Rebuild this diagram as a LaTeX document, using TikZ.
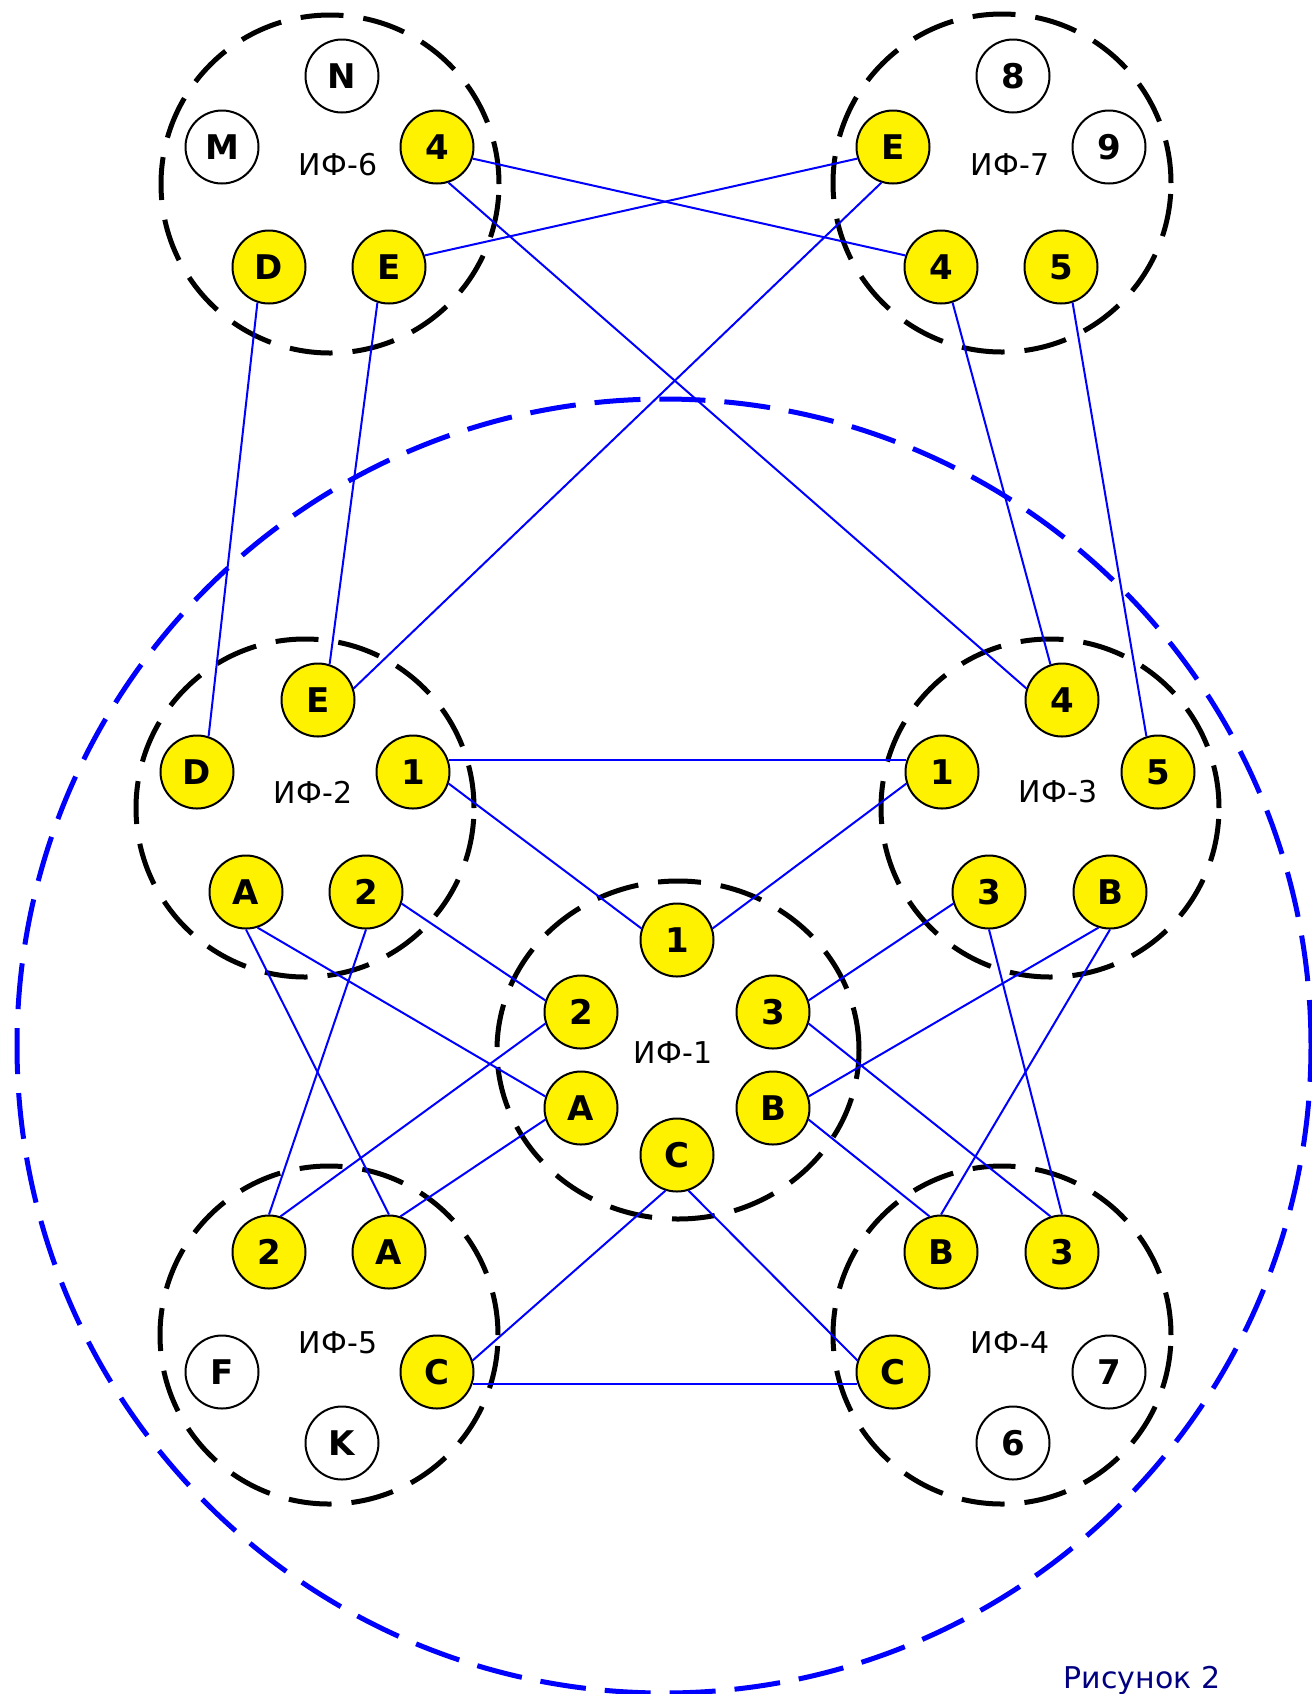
\documentclass[tikz,border=0pt]{standalone}
\usepackage{fontspec}
\setmainfont{DejaVu Sans}
\usepackage{tikz}
\usetikzlibrary{shapes}
\definecolor{navy}{RGB}{0,0,128}

\begin{document}
\begin{tikzpicture}[x=0.5pt,y=-0.5pt,
  port/.style={circle,draw,line width=1pt,minimum size=36.5pt,inner sep=0pt,
    font=\fontsize{17}{17}\selectfont\bfseries},
  used/.style={port,fill=yellow},
  free/.style={port,fill=white},
  group/.style={draw,line width=2.5pt,dash pattern=on 21.5pt off 10pt},
  link/.style={blue,line width=1pt},
  lbl/.style={font=\fontsize{15}{15}\selectfont}]

  \useasboundingbox (0,0) rectangle (1312,1694);

  % Outer blue ring
  \draw[blue,line width=2.5pt,dash pattern=on 23pt off 9.5pt] (664,1046) circle (323.5pt);

  % Groups
  \draw[group] (330,184) circle (84.5pt);
  \draw[group] (1002,183) circle (84.5pt);
  \draw[group] (305,808) circle (84.5pt);
  \draw[group] (1050,808) circle (84.5pt);
  \draw[group] (678,1050) ellipse (90.5pt and 84.5pt);
  \draw[group] (329,1335) circle (84.5pt);
  \draw[group] (1002,1335) circle (84.5pt);

  \foreach \n/\t/\x/\y in {l6/ИФ-6/338/165, l7/ИФ-7/1010/165, l2/ИФ-2/313/792,
      l3/ИФ-3/1058/792, l1/ИФ-1/673/1053, l5/ИФ-5/338/1343, l4/ИФ-4/1010/1343} {
    \node[lbl] (\n) at (\x,\y) {\t};
  }

  % Free ports
  \foreach \n/\t/\x/\y in {f6-N/N/342/76, f6-M/M/222/147, f7-8/8/1013/76, f7-9/9/1109/147,
      f5-F/F/222/1372, f5-K/K/342/1443, f4-7/7/1109/1372, f4-6/6/1013/1443} {
    \node[free] (\n) at (\x,\y) {\t};
  }

  % Used ports
  \foreach \n/\t/\x/\y in {f6-4/4/437/147, f6-D/D/269/267, f6-E/E/389/267,
      f7-E/E/893/147, f7-4/4/941/267, f7-5/5/1061/267,
      f2-E/E/318/700, f2-D/D/197/772, f2-1/1/413/772, f2-A/A/246/892, f2-2/2/366/892,
      f3-4/4/1062/700, f3-1/1/942/772, f3-5/5/1158/772, f3-3/3/989/892, f3-B/B/1110/892,
      f1-1/1/677/940, f1-2/2/581/1012, f1-3/3/773/1012, f1-A/A/581/1108, f1-B/B/773/1108,
      f1-C/C/677/1155,
      f5-2/2/269/1252, f5-A/A/389/1252, f5-C/C/437/1372,
      f4-B/B/941/1252, f4-3/3/1062/1252, f4-C/C/893/1372} {
    \node[used] (\n) at (\x,\y) {\t};
  }

  % Links
  \foreach \a/\b in {f6-4.342/f7-4.162, f6-E.18/f7-E.198, f6-4.288/f3-4.162,
      f7-E.252/f2-E.18, f6-D.252/f2-D.72, f6-E.252/f2-E.72,
      f7-4.288/f3-4.108, f7-5.288/f3-5.108,
      f2-1.18/f3-1.162, f2-1.342/f1-1.162, f3-1.198/f1-1.18,
      f2-2.342/f1-2.162, f2-2.270/f5-2.90, f2-A.288/f1-A.162, f2-A.270/f5-A.90,
      f1-2.198/f5-2.72, f1-A.198/f5-A.72,
      f3-3.198/f1-3.18, f3-3.270/f4-3.90, f3-B.252/f1-B.18, f3-B.270/f4-B.90,
      f1-3.342/f4-3.108, f1-B.342/f4-B.108,
      f1-C.252/f5-C.18, f1-C.288/f4-C.162, f5-C.342/f4-C.198} {
    \draw[link] (\a) -- (\b);
  }

  \node[lbl,text=navy,anchor=base] (fig) at (1142,1688) {Рисунок 2};
\end{tikzpicture}
\end{document}
